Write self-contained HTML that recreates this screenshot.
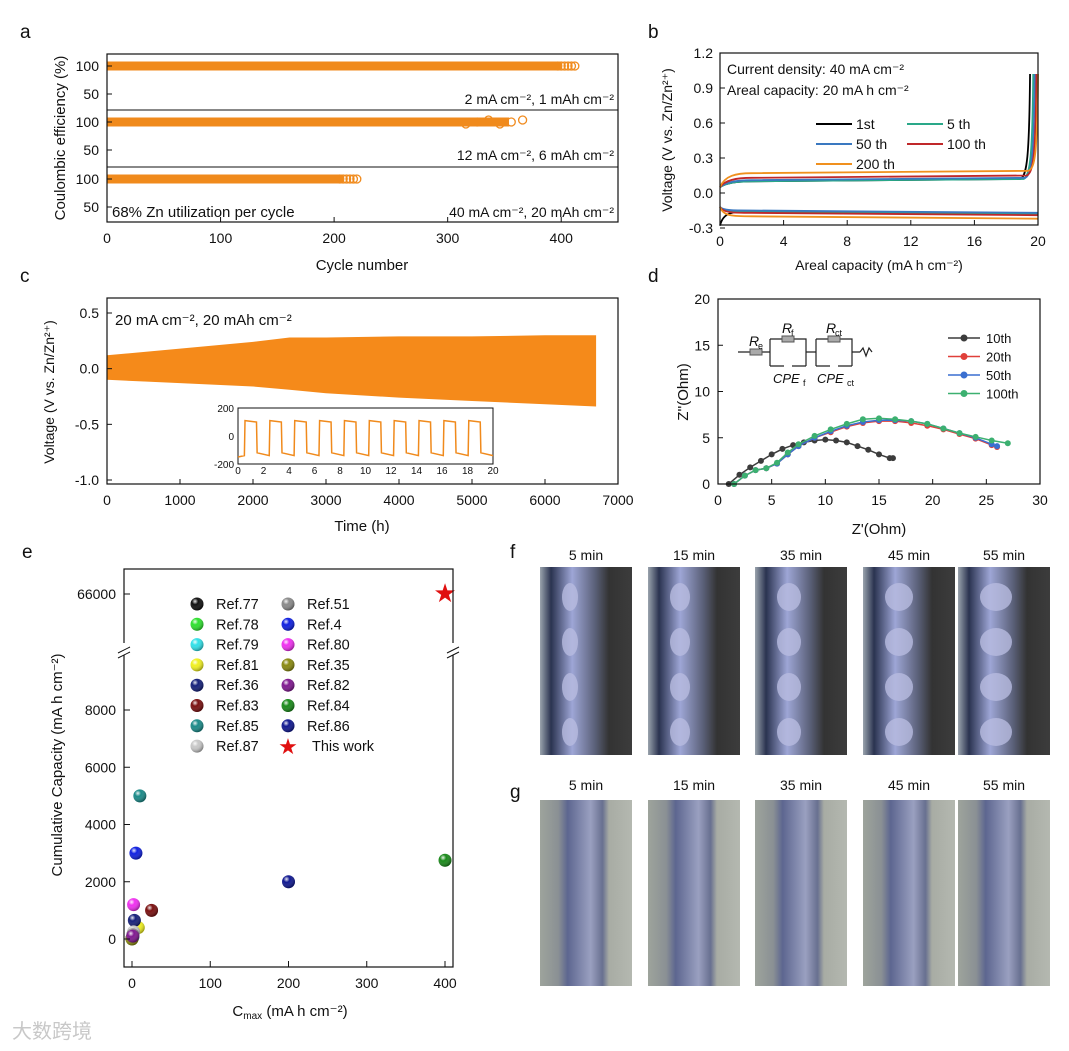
<!DOCTYPE html>
<html><head><meta charset="utf-8"><style>
body{margin:0;background:#fff}
svg{display:block;font-family:"Liberation Sans",Arial,sans-serif}
</style></head><body>
<svg id="s" width="1069" height="1051" viewBox="0 0 1069 1051" xmlns="http://www.w3.org/2000/svg">
<defs>
<radialGradient id="sh" cx="0.35" cy="0.3" r="0.7"><stop offset="0" stop-color="#fff" stop-opacity="0.9"/><stop offset="0.35" stop-color="#fff" stop-opacity="0"/><stop offset="1" stop-color="#000" stop-opacity="0.35"/></radialGradient>
<linearGradient id="photoF" x1="0" x2="1"><stop offset="0" stop-color="#9aa3ad"/><stop offset="0.12" stop-color="#2a3350"/><stop offset="0.35" stop-color="#9ea6d6"/><stop offset="0.6" stop-color="#5a6078"/><stop offset="0.75" stop-color="#333"/><stop offset="1" stop-color="#3c3c3c"/></linearGradient>
<linearGradient id="photoG" x1="0" x2="1"><stop offset="0" stop-color="#9ea49c"/><stop offset="0.2" stop-color="#8a9094"/><stop offset="0.3" stop-color="#5d6690"/><stop offset="0.55" stop-color="#9aa0c0"/><stop offset="0.68" stop-color="#687090"/><stop offset="0.75" stop-color="#a8aca4"/><stop offset="1" stop-color="#b4b8b0"/></linearGradient>
</defs>
<g id="root"></g>
</svg>
<script>
// ---------- data ----------
const aCycles=[412,366,220];
const aLabels=["2 mA cm⁻², 1 mAh cm⁻²","12 mA cm⁻², 6 mAh cm⁻²","40 mA cm⁻², 20 mAh cm⁻²"];
const aXTicks=[0,100,200,300,400];
const bSeries=["1st","5 th","50 th","100 th","200 th"];
const bColors=["#000","#2aa889","#3a78c0","#c0282a","#f0901e"];
const bCharge=[0.10,0.10,0.11,0.13,0.17];
const bDischarge=[-0.16,-0.16,-0.15,-0.17,-0.20];
const bEnd=[19.5,19.7,19.8,19.9,20.0];
const bXTicks=[0,4,8,12,16,20];
const bYTicks=[-0.3,0.0,0.3,0.6,0.9,1.2];
const cTimes=[0,1000,2000,2500,3000,4000,5000,6000,6700];
const cUpper=[0.12,0.18,0.24,0.28,0.28,0.29,0.29,0.30,0.30];
const cLower=[-0.10,-0.13,-0.16,-0.19,-0.22,-0.26,-0.29,-0.32,-0.34];
const cXTicks=[0,1000,2000,3000,4000,5000,6000,7000];
const cYTicks=[-1.0,-0.5,0.0,0.5];
const dSeries=["10th","20th","50th","100th"];
const dColors=["#3c3c3c","#e0403a","#3a6fd0","#3cb070"];
const d10x=[1,2,3,4,5,6,7,8,9,10,11,12,13,14,15,16,16.3];
const d10y=[0,1,1.8,2.5,3.2,3.8,4.2,4.5,4.7,4.8,4.7,4.5,4.1,3.7,3.2,2.8,2.8];
const d20x=[1.5,2.5,3.5,4.5,5.5,6.5,7.5,9,10.5,12,13.5,15,16.5,18,19.5,21,22.5,24,25.5,26];
const d20y=[0,0.9,1.5,1.7,2.2,3.2,4.1,5.0,5.6,6.2,6.6,6.8,6.8,6.6,6.3,5.9,5.4,4.9,4.2,4.0];
const d50y=[0,0.9,1.5,1.7,2.2,3.2,4.1,5.0,5.7,6.3,6.7,6.9,6.9,6.8,6.5,6.0,5.5,5.0,4.3,4.1];
const d100x=[1.5,2.5,3.5,4.5,5.5,6.5,7.5,9,10.5,12,13.5,15,16.5,18,19.5,21,22.5,24,25.5,27];
const d100y=[0,0.9,1.5,1.7,2.3,3.4,4.3,5.2,5.9,6.5,7.0,7.1,7.0,6.8,6.5,6.0,5.5,5.1,4.7,4.4];
const dXTicks=[0,5,10,15,20,25,30];
const dYTicks=[0,5,10,15,20];
const eNames=["Ref.77","Ref.78","Ref.79","Ref.81","Ref.36","Ref.83","Ref.85","Ref.87","Ref.51","Ref.4","Ref.80","Ref.35","Ref.82","Ref.84","Ref.86"];
const eColors=["#111","#2ee02e","#30e0e8","#f0f020","#15207a","#7a1010","#1a8a88","#c8c8c8","#8a8a8a","#1020e0","#f030f0","#8a8a10","#801890","#1a8a1a","#101890"];
const eX=[0,1,1,8,3,25,10,2,1,5,2,0,1,400,200];
const eY=[30,60,80,400,650,1000,5000,250,150,3000,1200,0,100,2750,2000];
const eStarX=400, eStarY=66000;
const eXTicks=[0,100,200,300,400];
const eYTicks=[0,2000,4000,6000,8000];
const fTimes=["5 min","15 min","35 min","45 min","55 min"];

// ---------- helpers ----------
const NS="http://www.w3.org/2000/svg";
const root=document.getElementById('root');
function el(tag,attrs,parent){const e=document.createElementNS(NS,tag);for(const k in attrs)e.setAttribute(k,attrs[k]);(parent||root).appendChild(e);return e;}
function txt(x,y,s,size,anchor,parent){const t=el('text',{x:x,y:y,'font-size':size||15,'text-anchor':anchor||'start',fill:'#111'},parent);t.textContent=s;return t;}
function lin(d0,d1,r0,r1){return v=>r0+(v-d0)/(d1-d0)*(r1-r0);}
function pathFrom(xs,ys,sx,sy){return xs.map((x,i)=>(i?'L':'M')+sx(x).toFixed(1)+','+sy(ys[i]).toFixed(1)).join('');}

// panel letters
[["a",20,38],["b",648,38],["c",20,282],["d",648,282],["e",22,558],["f",510,558],["g",510,798]].forEach(p=>{const t=txt(p[1],p[2],p[0],19);});

// ---------- panel a ----------
{
const g=el('g',{});
const sx=lin(0,450,107,618);
const tops=[54,110,167];
tops.forEach((t,i)=>{
  const sy=lin(50,100,t+40,t+12);
  const band=el('line',{x1:sx(0),x2:sx(aCycles[i]-12),y1:sy(100),y2:sy(100),stroke:'#f08a1c','stroke-width':9},g);
  
  for(let k=0;k<6;k++){const c=el('circle',{cx:sx(aCycles[i]-k*(i==1?10:3)),cy:sy(100)+(i==1?(k%3-1)*2:0),r:4,fill:'none',stroke:'#f08a1c','stroke-width':1.3},g);
    }
  [100,50].forEach(v=>{el('line',{x1:107,x2:112,y1:sy(v),y2:sy(v),stroke:'#111'},g);txt(99,sy(v)+5,String(v),14,'end',g);});
  const l=txt(614,t+50,aLabels[i],14,'end',g);
  if(i>0) el('line',{x1:107,x2:618,y1:t,y2:t,stroke:'#111'},g);
});
el('rect',{x:107,y:54,width:511,height:168,fill:'none',stroke:'#111','stroke-width':1.2},g);
txt(112,217,"68% Zn utilization per cycle",15,'start',g);
aXTicks.forEach(v=>{el('line',{x1:sx(v),x2:sx(v),y1:222,y2:217,stroke:'#111'},g);txt(sx(v),243,String(v),14,'middle',g);});
const xt=txt(362,270,"Cycle number",15,'middle',g);
const yt=txt(0,0,"Coulombic efficiency (%)",15,'middle',g);yt.setAttribute('transform','translate(65,138) rotate(-90)');
}

// ---------- panel b ----------
{
const g=el('g',{});
const sx=lin(0,20,720,1038), sy=lin(-0.3,1.2,228,53);
bSeries.forEach((s,i)=>{
  const e=bEnd[i];
  const up=el('path',{d:`M${sx(0)},${sy(0.05)} C${sx(0.3)},${sy(bCharge[i]-0.02)} ${sx(1)},${sy(bCharge[i])} ${sx(2)},${sy(bCharge[i])} L${sx(e-0.6)},${sy(bCharge[i]+0.02)} C${sx(e-0.2)},${sy(bCharge[i]+0.05)} ${sx(e-0.05)},${sy(0.3)} ${sx(e)},${sy(1.02)}`,fill:'none',stroke:bColors[i],'stroke-width':1.8},g);
  
  const dn=el('path',{d:`M${sx(0)},${sy(i==0?-0.28:-0.12)} C${sx(0.2)},${sy(bDischarge[i])} ${sx(0.8)},${sy(bDischarge[i])} ${sx(2)},${sy(bDischarge[i])} L${sx(20)},${sy(bDischarge[i]-0.02)}`,fill:'none',stroke:bColors[i],'stroke-width':1.8},g);
  
});
el('rect',{x:720,y:53,width:318,height:172,fill:'none',stroke:'#111','stroke-width':1.2},g);
bXTicks.forEach(v=>{el('line',{x1:sx(v),x2:sx(v),y1:225,y2:220,stroke:'#111'},g);txt(sx(v),246,String(v),14,'middle',g);});
bYTicks.forEach(v=>{el('line',{x1:720,x2:725,y1:sy(v),y2:sy(v),stroke:'#111'},g);txt(713,sy(v)+5,v.toFixed(1),14,'end',g);});
txt(727,74,"Current density: 40 mA cm⁻²",14,'start',g);
txt(727,95,"Areal capacity: 20 mA h cm⁻²",14,'start',g);
const lp=[[816,124],[907,124],[816,144],[907,144],[816,164]];
bSeries.forEach((s,i)=>{el('line',{x1:lp[i][0],x2:lp[i][0]+36,y1:lp[i][1],y2:lp[i][1],stroke:bColors[i],'stroke-width':2},g);
  const t=txt(lp[i][0]+40,lp[i][1]+5,s,14,'start',g);});
txt(879,270,"Areal capacity (mA h cm⁻²)",14,'middle',g);
const yt=txt(0,0,"Voltage (V vs. Zn/Zn²⁺)",14,'middle',g);yt.setAttribute('transform','translate(672,140) rotate(-90)');
}

// ---------- panel c ----------
{
const g=el('g',{});
const sx=lin(0,7000,107,618), sy=lin(-1,0.5,480,313);
const d=pathFrom(cTimes,cUpper,sx,sy)+pathFrom(cTimes.slice().reverse(),cLower.slice().reverse(),sx,sy).replace('M','L')+'Z';
const band=el('path',{d:d,fill:'#f58a1a'},g);
el('rect',{x:107,y:298,width:511,height:186,fill:'none',stroke:'#111','stroke-width':1.2},g);
cXTicks.forEach(v=>{el('line',{x1:sx(v),x2:sx(v),y1:484,y2:479,stroke:'#111'},g);txt(sx(v),505,String(v),14,'middle',g);});
cYTicks.forEach(v=>{el('line',{x1:107,x2:112,y1:sy(v),y2:sy(v),stroke:'#111'},g);txt(99,sy(v)+5,v.toFixed(1),14,'end',g);});
txt(115,325,"20 mA cm⁻², 20 mAh cm⁻²",15,'start',g);
txt(362,531,"Time (h)",15,'middle',g);
const yt=txt(0,0,"Voltage (V vs. Zn/Zn²⁺)",14,'middle',g);yt.setAttribute('transform','translate(54,392) rotate(-90)');
const ix=lin(0,20,238,493), iy=lin(-200,200,464,408);
el('rect',{x:238,y:408,width:255,height:56,fill:'#fff',stroke:'#111'},g);
let p=`M${ix(0)},${iy(-150)}`;
for(let k=0;k<10;k++){const x0=0.5+k*1.95;p+=` L${ix(x0)},${iy(-140)} L${ix(x0+0.05)},${iy(110)} L${ix(x0+0.95)},${iy(100)} L${ix(x0+1)},${iy(-120)} L${ix(x0+1.95)},${iy(-140)}`;}
const ip=el('path',{d:p,fill:'none',stroke:'#f08a1c','stroke-width':1.5},g);
[0,2,4,6,8,10,12,14,16,18,20].forEach(v=>txt(ix(v),474,String(v),10,'middle',g));
[-200,0,200].forEach(v=>txt(234,iy(v)+4,String(v),10,'end',g));
}

// ---------- panel d ----------
{
const g=el('g',{});
const sx=lin(0,30,718,1040), sy=lin(0,20,484,299);
const sets=[[d10x,d10y],[d20x,d20y],[d20x,d50y],[d100x,d100y]];
sets.forEach((s,i)=>{
  const l=el('path',{d:pathFrom(s[0],s[1],sx,sy),fill:'none',stroke:dColors[i],'stroke-width':1.5},g);
  
  s[0].forEach((x,k)=>{const c=el('circle',{cx:sx(x),cy:sy(s[1][k]),r:3,fill:dColors[i]},g);});
});
el('rect',{x:718,y:299,width:322,height:185,fill:'none',stroke:'#111','stroke-width':1.2},g);
dXTicks.forEach(v=>{el('line',{x1:sx(v),x2:sx(v),y1:484,y2:479,stroke:'#111'},g);txt(sx(v),505,String(v),14,'middle',g);});
dYTicks.forEach(v=>{el('line',{x1:718,x2:723,y1:sy(v),y2:sy(v),stroke:'#111'},g);txt(710,sy(v)+5,String(v),14,'end',g);});
txt(879,534,"Z'(Ohm)",15,'middle',g);
const yt=txt(0,0,"Z''(Ohm)",15,'middle',g);yt.setAttribute('transform','translate(688,392) rotate(-90)');
dSeries.forEach((s,i)=>{const y=338+i*18.5;el('line',{x1:948,x2:980,y1:y,y2:y,stroke:dColors[i],'stroke-width':1.5},g);el('circle',{cx:964,cy:y,r:3.5,fill:dColors[i]},g);
  const t=txt(986,y+5,s,13,'start',g);});
const cg=el('g',{stroke:'#222',fill:'none','stroke-width':1.2},g);
el('path',{d:'M738,352 H750 M762,352 H770 M770,339 V366 M770,339 H782 M794,339 H806 V366 M770,366 H784 M792,366 H806 M806,352 H816 M816,339 V366 M816,339 H828 M840,339 H852 V366 M816,366 H830 M838,366 H852 M852,352 H860 M860,352 l3,-4 l3,8 l3,-8 l3,4'},cg);
[[750,349],[782,336],[828,336]].forEach(r=>el('rect',{x:r[0],y:r[1],width:12,height:6,fill:'#aaa',stroke:'#555'},g));
txt(749,346,"R",14,'start',g).setAttribute('font-style','italic');txt(758,349,"e",9,'start',g);
txt(782,333,"R",14,'start',g).setAttribute('font-style','italic');txt(791,336,"f",9,'start',g);
txt(826,333,"R",14,'start',g).setAttribute('font-style','italic');txt(835,336,"ct",9,'start',g);
txt(773,383,"CPE",13,'start',g).setAttribute('font-style','italic');txt(803,386,"f",9,'start',g);
txt(817,383,"CPE",13,'start',g).setAttribute('font-style','italic');txt(847,386,"ct",9,'start',g);
}

// ---------- panel e ----------
{
const g=el('g',{});
const sx=lin(0,400,132,445), sy=lin(0,8000,939,710);
const syTop=v=>594;
eX.forEach((x,i)=>{const c=el('circle',{cx:sx(x),cy:sy(eY[i]),r:6.5,fill:eColors[i]},g);
  
  el('circle',{cx:sx(x),cy:sy(eY[i]),r:6.5,fill:'url(#sh)'},g);});
const st=el('text',{x:sx(eStarX),y:syTop(eStarY)+8,'font-size':26,'text-anchor':'middle',fill:'#e01010'},g);st.textContent='★';
el('rect',{x:124,y:569,width:329,height:398,fill:'none',stroke:'#111','stroke-width':1.2},g);
el('rect',{x:118,y:643,width:12,height:12,fill:'#fff'},g);el('rect',{x:447,y:643,width:12,height:12,fill:'#fff'},g);
el('path',{d:'M118,653 l12,-6 M118,658 l12,-6 M447,653 l12,-6 M447,658 l12,-6',stroke:'#111'},g);
eXTicks.forEach(v=>{el('line',{x1:sx(v),x2:sx(v),y1:967,y2:961,stroke:'#111'},g);txt(sx(v),988,String(v),14,'middle',g);});
eYTicks.forEach(v=>{el('line',{x1:124,x2:130,y1:sy(v),y2:sy(v),stroke:'#111'},g);txt(116,sy(v)+5,String(v),14,'end',g);});
el('line',{x1:124,x2:130,y1:594,y2:594,stroke:'#111'},g);txt(116,599,"66000",14,'end',g);
const xt=el('text',{x:290,y:1016,'font-size':15,'text-anchor':'middle',fill:'#111'},g);

const t1=el('tspan',{},xt);t1.textContent='C';
const t2=el('tspan',{'font-size':10,dy:3},xt);t2.textContent='max';
const t3=el('tspan',{dy:-3},xt);t3.textContent=' (mA h cm⁻²)';
const yt=txt(0,0,"Cumulative Capacity (mA h cm⁻²)",15,'middle',g);yt.setAttribute('transform','translate(62,765) rotate(-90)');
for(let i=0;i<16;i++){const col=i<8?0:1,row=i%8;const lx=col?288:197,ly=604+row*20.3;
  if(i<15){el('circle',{cx:lx,cy:ly,r:6.5,fill:eColors[i]},g);el('circle',{cx:lx,cy:ly,r:6.5,fill:'url(#sh)'},g);
    const t=txt(lx+19,ly+5,eNames[i],14.5,'start',g);}
  else{const s=el('text',{x:lx,y:ly+8,'font-size':22,'text-anchor':'middle',fill:'#e01010'},g);s.textContent='★';txt(lx+24,ly+5,"This work",14.5,'start',g);}
}
}

// ---------- panels f, g (photos) ----------
{
const xs=[540,648,755,863,958];
['f','g'].forEach((p,pi)=>{
  const g=el('g',{});
  const y0=pi?800:567,h=pi?186:188;
  fTimes.forEach((t,i)=>{
    const r=el('rect',{x:xs[i],y:y0,width:92,height:h,fill:pi?'url(#photoG)':'url(#photoF)'},g);
    
    if(!pi){for(let k=0;k<4;k++)el('ellipse',{cx:xs[i]+30+i*2,cy:y0+30+k*45,rx:8+i*2,ry:14,fill:'#b8bce0',opacity:0.8},g);}
    const l=txt(xs[i]+46,y0-(pi?10:7),t,14,'middle',g);
  });
});
}
const w=txt(12,1038,"大数跨境",20,'start');w.setAttribute('fill','#c8c8c8');w.setAttribute('font-family','"Liberation Sans","Noto Sans CJK SC",sans-serif');
</script>
</body></html>
